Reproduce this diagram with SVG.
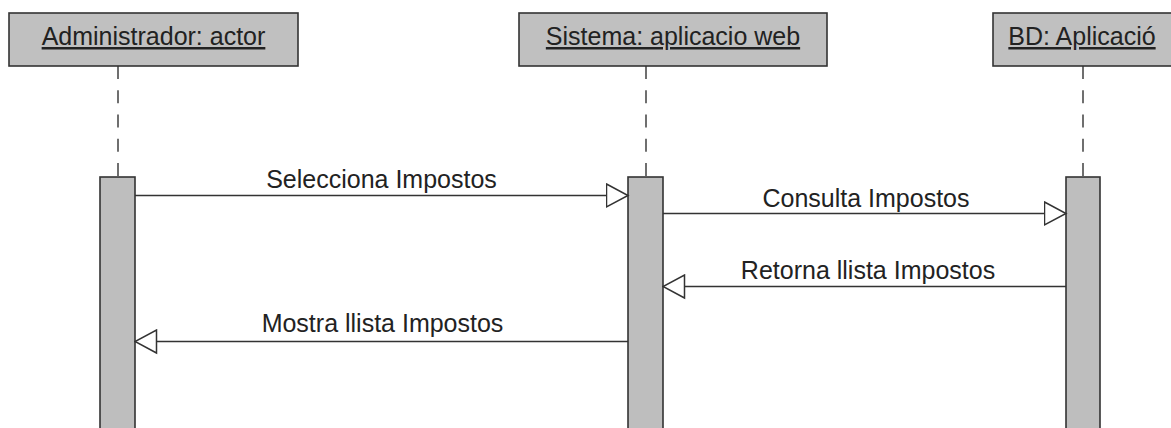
<svg xmlns="http://www.w3.org/2000/svg" width="1171" height="428" viewBox="0 0 1171 428">
<style>
.head{fill:#c0c0c0;stroke:#333;stroke-width:1.6}
.bar{fill:#bebebe;stroke:#333;stroke-width:1.6}
.life{stroke:#333;stroke-width:1.4;stroke-dasharray:13 11.25;fill:none}
.msg{stroke:#333;stroke-width:1.5;fill:none;marker-end:url(#open)}
text{font-family:"Liberation Sans",Arial,sans-serif;font-size:25px;fill:#222}
.title{text-decoration:underline;text-anchor:middle}
.lbl{text-anchor:middle}
</style>
<defs>
<marker id="open" viewBox="0 0 24 26" refX="22.5" refY="13" markerWidth="24" markerHeight="26" markerUnits="userSpaceOnUse" orient="auto">
<path d="M1,1.5 L22.5,13 L1,24.5 Z" fill="#fff" stroke="#333" stroke-width="1.5"/>
</marker>
</defs>
<rect width="1171" height="428" fill="#fff"/>
<g id="lifelines">
<line class="life" x1="118" y1="66" x2="118" y2="177"/>
<line class="life" x1="646" y1="66" x2="646" y2="177"/>
<line class="life" x1="1083" y1="66" x2="1083" y2="177"/>
</g>
<g id="admin">
<rect class="head" x="9" y="13" width="289" height="53"/>
<text class="title" x="153.5" y="45">Administrador: actor</text>
<rect class="bar" x="100" y="177" width="35" height="260"/>
</g>
<g id="sistema">
<rect class="head" x="519" y="13" width="308" height="53"/>
<text class="title" x="673" y="45">Sistema: aplicacio web</text>
<rect class="bar" x="628" y="177" width="35" height="260"/>
</g>
<g id="bd">
<rect class="head" x="993" y="13" width="185" height="53"/>
<text class="title" x="1082" y="45">BD: Aplicació</text>
<rect class="bar" x="1066" y="177" width="34" height="260"/>
</g>
<g id="connectors">
<line class="msg" x1="135" y1="195.5" x2="628" y2="195.5"/>
<text class="lbl" x="381.5" y="188">Selecciona Impostos</text>
<line class="msg" x1="663" y1="213.5" x2="1066" y2="213.5"/>
<text class="lbl" x="866" y="206.5">Consulta Impostos</text>
<line class="msg" x1="1066" y1="286.5" x2="663" y2="286.5"/>
<text class="lbl" x="868" y="279">Retorna llista Impostos</text>
<line class="msg" x1="628" y1="341.5" x2="135" y2="341.5"/>
<text class="lbl" x="382.5" y="332">Mostra llista Impostos</text>
</g>
</svg>
